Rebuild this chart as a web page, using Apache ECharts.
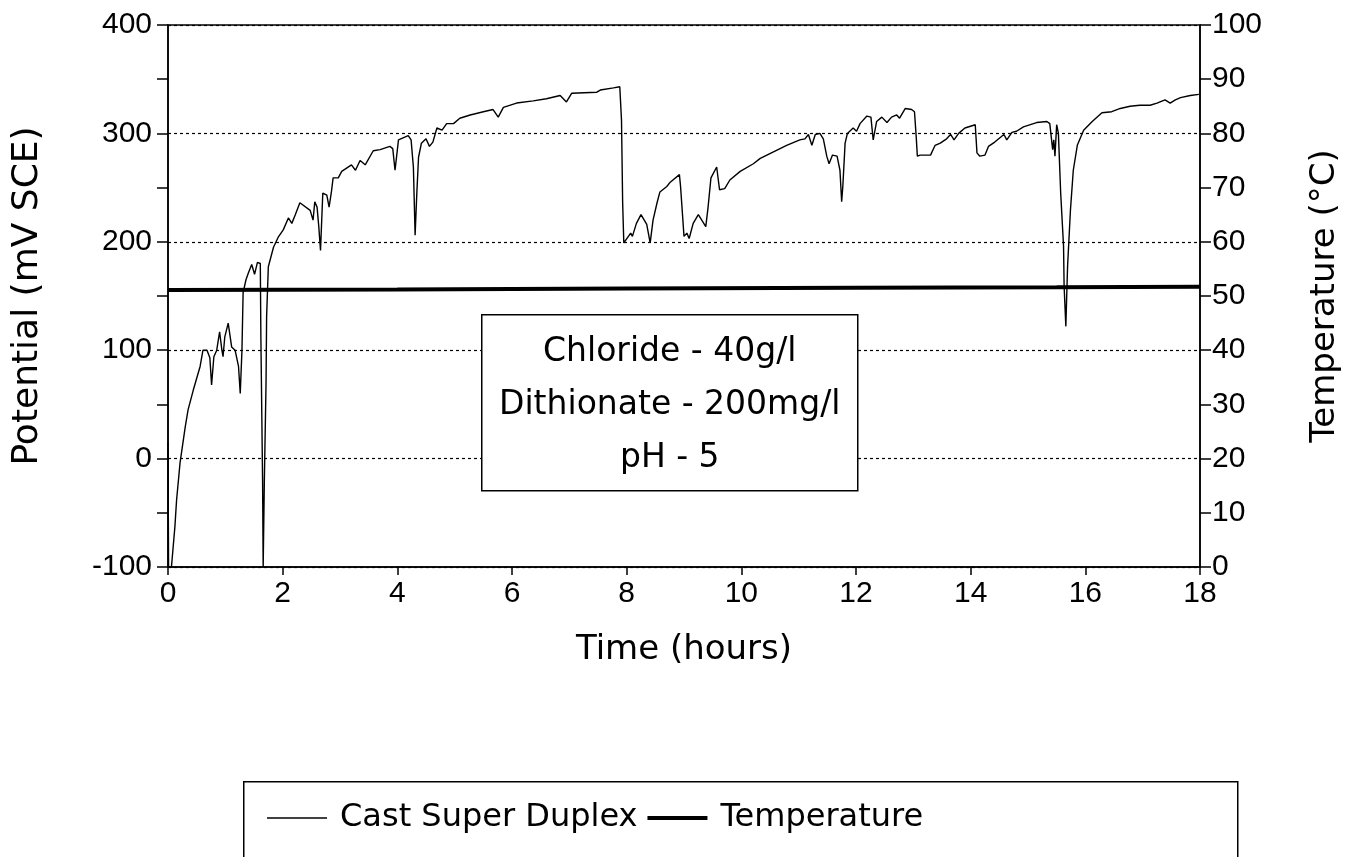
<!DOCTYPE html>
<html>
<head>
<meta charset="UTF-8">
<title>Cast Super Duplex potential</title>
<script src="https://cdn.jsdelivr.net/npm/echarts@6/dist/echarts.min.js"></script>
<style>
  html, body { margin: 0; padding: 0; background: #fff; }
  #chart { width: 1359px; height: 857px; }
</style>
</head>
<body>
<div id="chart"></div>
<script>
// potential trace (hours, mV SCE)
const timeHours = [0, 0.01, 0.06, 0.12, 0.15, 0.21, 0.30, 0.35, 0.44, 0.56, 0.61, 0.68, 0.73, 0.76, 0.80, 0.85, 0.90, 0.94, 0.96, 0.99,
  1.05, 1.11, 1.17, 1.23, 1.26, 1.29, 1.31, 1.36, 1.40, 1.46, 1.51, 1.56, 1.61, 1.62, 1.65, 1.66, 1.68, 1.71, 1.72, 1.75,
  1.84, 1.92, 2.01, 2.10, 2.16, 2.22, 2.30, 2.48, 2.53, 2.56, 2.60, 2.63, 2.66, 2.70, 2.77, 2.81, 2.85, 2.88, 2.97, 3.03,
  3.20, 3.27, 3.35, 3.44, 3.58, 3.70, 3.87, 3.92, 3.96, 4.02, 4.19, 4.24, 4.28, 4.31, 4.34, 4.37, 4.42, 4.50, 4.56, 4.62,
  4.69, 4.78, 4.86, 4.98, 5.09, 5.27, 5.50, 5.67, 5.76, 5.85, 6.08, 6.37, 6.60, 6.84, 6.95, 7.04, 7.48, 7.54, 7.77, 7.88,
  7.91, 7.93, 7.95, 8.03, 8.07, 8.10, 8.17, 8.25, 8.35, 8.41, 8.46, 8.53, 8.58, 8.70, 8.76, 8.92, 8.94, 9.00, 9.05, 9.09,
  9.16, 9.25, 9.38, 9.42, 9.47, 9.57, 9.62, 9.71, 9.80, 9.98, 10.21, 10.33, 10.56, 10.79, 11.02, 11.11, 11.17, 11.23, 11.29, 11.37,
  11.43, 11.49, 11.53, 11.59, 11.67, 11.72, 11.75, 11.77, 11.81, 11.85, 11.95, 12.01, 12.07, 12.19, 12.26, 12.30, 12.36, 12.45, 12.54, 12.62,
  12.71, 12.76, 12.86, 12.97, 13.02, 13.05, 13.07, 13.12, 13.21, 13.30, 13.38, 13.47, 13.58, 13.65, 13.71, 13.79, 13.90, 14.08, 14.11, 14.16,
  14.25, 14.31, 14.42, 14.58, 14.63, 14.72, 14.80, 14.92, 15.15, 15.33, 15.38, 15.43, 15.45, 15.47, 15.50, 15.53, 15.57, 15.62, 15.63, 15.66,
  15.69, 15.74, 15.79, 15.86, 15.97, 16.12, 16.29, 16.46, 16.61, 16.78, 16.95, 17.13, 17.25, 17.39, 17.48, 17.57, 17.66, 17.83, 17.98];
const potential = [15, -100, -100, -63, -38, -4, 29, 45, 63, 85, 100, 100, 93, 68, 94, 100, 117, 100, 94, 112,
  125, 103, 100, 85, 60, 100, 153, 165, 171, 179, 170, 181, 180, 112, -22, -100, -22, 70, 131, 177,
  195, 204, 211, 222, 217, 225, 236, 229, 220, 237, 232, 214, 192, 245, 243, 232, 246, 259, 259, 265,
  271, 266, 275, 271, 284, 285, 288, 286, 266, 294, 298, 294, 269, 206, 245, 278, 291, 295, 288, 292,
  305, 303, 309, 309, 314, 317, 320, 322, 315, 324, 328, 330, 332, 335, 329, 337, 338, 340, 342, 343,
  312, 236, 199, 205, 208, 205, 217, 225, 216, 199, 220, 236, 246, 251, 255, 262, 251, 205, 208, 203,
  217, 225, 214, 232, 259, 269, 248, 249, 257, 265, 272, 277, 283, 289, 294, 295, 299, 289, 299, 300,
  295, 279, 272, 280, 279, 266, 237, 251, 291, 300, 305, 302, 309, 316, 315, 294, 311, 315, 310, 315,
  317, 314, 323, 322, 320, 297, 279, 280, 280, 280, 289, 291, 295, 299, 294, 300, 305, 308, 282, 279,
  280, 288, 292, 299, 294, 301, 302, 306, 310, 311, 309, 285, 294, 279, 308, 300, 245, 196, 159, 122,
  177, 229, 266, 289, 303, 311, 319, 320, 323, 325, 326, 326, 328, 331, 328, 331, 333, 335, 336];

// temperature trace (hours, °C)
const tempHours = [0, 4, 8, 12, 15.5, 18];
const temperature = [51.1, 51.2, 51.4, 51.5, 51.6, 51.7];

const xTicks = [0, 2, 4, 6, 8, 10, 12, 14, 16, 18];
const noteLines = ['Chloride - 40g/l', 'Dithionate - 200mg/l', 'pH - 5'];

const chart = echarts.init(document.getElementById('chart'));

const textFont = 'DejaVu Sans';
const tickFont = 'Liberation Sans';

const option = {
  backgroundColor: '#fff',
  animation: false,
  grid: { left: 168, right: 159, top: 25, bottom: 290, show: true, borderColor: '#000', borderWidth: 1.5, backgroundColor: 'transparent' },
  xAxis: {
    type: 'value', min: 0, max: 18, interval: 2,
    name: 'Time (hours)', nameLocation: 'middle', nameGap: 66,
    nameTextStyle: { fontFamily: textFont, fontSize: 34, color: '#000' },
    axisLine: { onZero: false, lineStyle: { color: '#000', width: 1.5 } },
    axisTick: { length: 8, lineStyle: { color: '#000', width: 1.5 } },
    axisLabel: { fontFamily: tickFont, fontSize: 30, color: '#000', margin: 12,
      formatter: v => xTicks.includes(v) ? String(v) : '' },
    splitLine: { show: false }
  },
  yAxis: [
    {
      type: 'value', min: -100, max: 400, interval: 100,
      name: 'Potential (mV SCE)', nameLocation: 'middle', nameGap: 122, nameRotate: 90,
      nameTextStyle: { fontFamily: textFont, fontSize: 36, color: '#000' },
      axisLine: { show: true, onZero: false, lineStyle: { color: '#000', width: 1.5 } },
      axisTick: { show: true, length: 11, lineStyle: { color: '#000', width: 1.5 } },
      minorTick: { show: true, splitNumber: 2, length: 11, lineStyle: { color: '#000', width: 1.5 } },
      axisLabel: { fontFamily: tickFont, fontSize: 30, color: '#000', margin: 16 },
      splitLine: { show: true, lineStyle: { color: '#000', type: [3, 3], width: 1.2 } }
    },
    {
      type: 'value', min: 0, max: 100, interval: 10, position: 'right',
      name: 'Temperature (°C)', nameLocation: 'middle', nameGap: 108, nameRotate: 90,
      nameTextStyle: { fontFamily: textFont, fontSize: 34, color: '#000' },
      axisLine: { show: true, onZero: false, lineStyle: { color: '#000', width: 1.5 } },
      axisTick: { show: true, length: 11, lineStyle: { color: '#000', width: 1.5 } },
      axisLabel: { fontFamily: tickFont, fontSize: 30, color: '#000', margin: 12 },
      splitLine: { show: false }
    }
  ],
  legend: {
    left: 262, top: 797,
    itemWidth: 60, itemHeight: 14, itemGap: 10,
    symbolKeepAspect: true,
    textStyle: { fontFamily: textFont, fontSize: 32, color: '#000', padding: [0, 0, 0, 8] },
    data: [
      { name: 'Cast Super Duplex', icon: 'path://M0,0H60V1.4H0Z' },
      { name: 'Temperature', icon: 'path://M0,0H60V4H0Z' }
    ]
  },
  graphic: [
    {
      type: 'rect', left: 243, top: 781, silent: true, z: 50,
      shape: { width: 994, height: 100 },
      style: { fill: 'transparent', stroke: '#000', lineWidth: 1.5 }
    },
    {
      type: 'group', left: 481, top: 314, silent: true, z: 100,
      children: [
        { type: 'rect', z: 100, shape: { x: 0, y: 0, width: 376, height: 176 },
          style: { fill: '#fff', stroke: '#000', lineWidth: 1.5 } }
      ].concat(noteLines.map((t, i) => ({
        type: 'text', z: 101, x: 188, y: 38 + i * 53,
        style: { text: t, fontFamily: textFont, fontSize: 33, fill: '#000', textAlign: 'center', textVerticalAlign: 'middle' }
      })))
    }
  ],
  series: [
    {
      name: 'Cast Super Duplex', type: 'line', yAxisIndex: 0,
      showSymbol: false, symbol: 'none',
      lineStyle: { color: '#000', width: 1.4 },
      itemStyle: { color: '#000' },
      data: timeHours.map((h, i) => [h, potential[i]]),
      z: 3
    },
    {
      name: 'Temperature', type: 'line', yAxisIndex: 1,
      showSymbol: false, symbol: 'none',
      lineStyle: { color: '#000', width: 4 },
      itemStyle: { color: '#000' },
      data: tempHours.map((h, i) => [h, temperature[i]]),
      z: 2
    }
  ]
};

chart.setOption(option);
window.addEventListener('resize', () => chart.resize());
</script>
</body>
</html>
